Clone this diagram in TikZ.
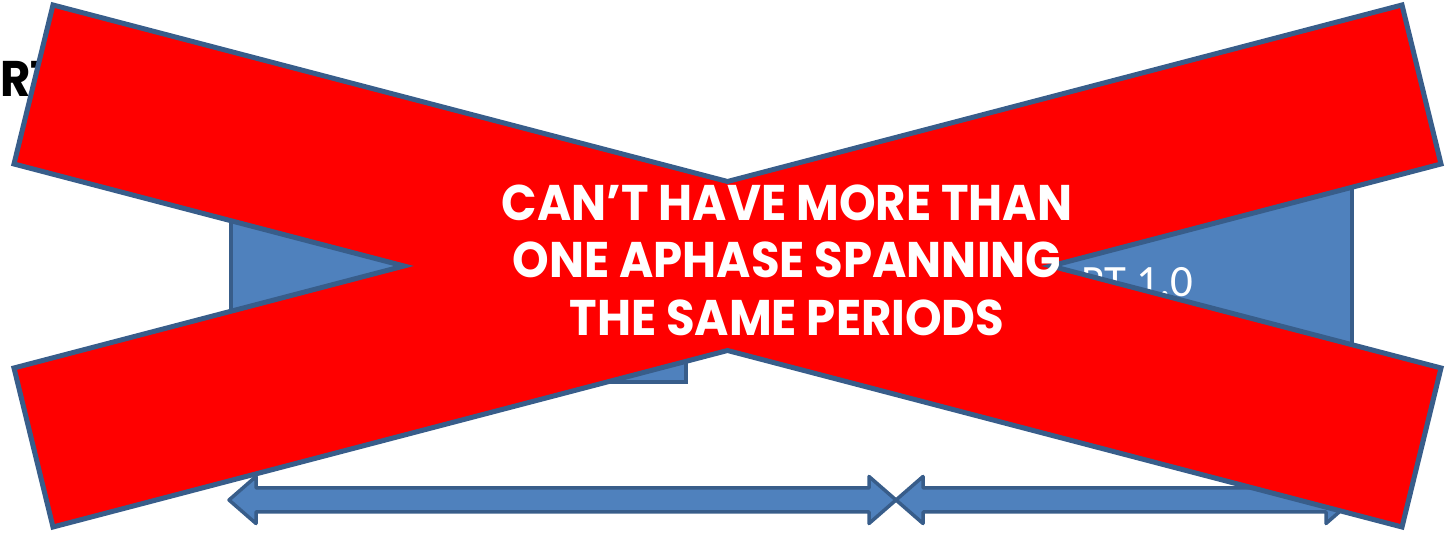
\documentclass[tikz,border=0pt]{standalone}
\usepackage{fontspec}
\newfontfamily\gothic{Poppins}[FakeStretch=0.93]
\newfontfamily\calib{Carlito}
\definecolor{edge}{RGB}{56,93,138}
\definecolor{phase}{RGB}{79,129,189}
\definecolor{cross}{RGB}{255,0,0}

\begin{document}
\begin{tikzpicture}[
  box/.style={draw=edge, fill=phase, line width=.8mm},
  period/.style={draw=edge, fill=phase, line width=.7mm, line join=round},
  banner/.style={draw=edge, fill=cross, line width=1mm, line join=miter},
  big/.style={inner sep=0pt, font={\gothic\bfseries\fontsize{28.5}{32.7}\selectfont}},
]
\useasboundingbox (0,0) rectangle (28.9,10.66);

% behind the cross
\node[big, anchor=base west] (head) at (0,8.72) {RT};
\draw[box] (4.62,6.66) rectangle (13.72,3.02);
\draw[box] (18.0,7.66) rectangle (27.04,3.26);
\node[inner sep=0pt, anchor=base east, text=white,
      font={\calib\fontsize{25.5}{30}\selectfont}] (part) at (23.88,4.72) {RT 1.0};

% the two periods
\foreach \a/\b in {4.58/17.92, 17.92/27.06}{
  \draw[period] (\a,0.66) -- (\a+0.54,1.13) -- (\a+0.54,0.90)
    -- (\b-0.54,0.90) -- (\b-0.54,1.13) -- (\b,0.66)
    -- (\b-0.54,0.19) -- (\b-0.54,0.42) -- (\a+0.54,0.42)
    -- (\a+0.54,0.19) -- cycle;
}

% the cross
\draw[banner] (1.06,10.56) -- (14.55,7.03) -- (28.04,10.56) -- (28.82,7.38)
  -- (21.02,5.34) -- (28.82,3.30) -- (28.04,0.12) -- (14.55,3.65)
  -- (1.06,0.12) -- (0.28,3.30) -- (8.08,5.34) -- (0.28,7.38) -- cycle;
\node[big, text=white, align=center] (rule) at (15.74,5.46)
  {CAN’T HAVE MORE THAN\\ONE APHASE SPANNING\\THE SAME PERIODS};
\end{tikzpicture}
\end{document}
